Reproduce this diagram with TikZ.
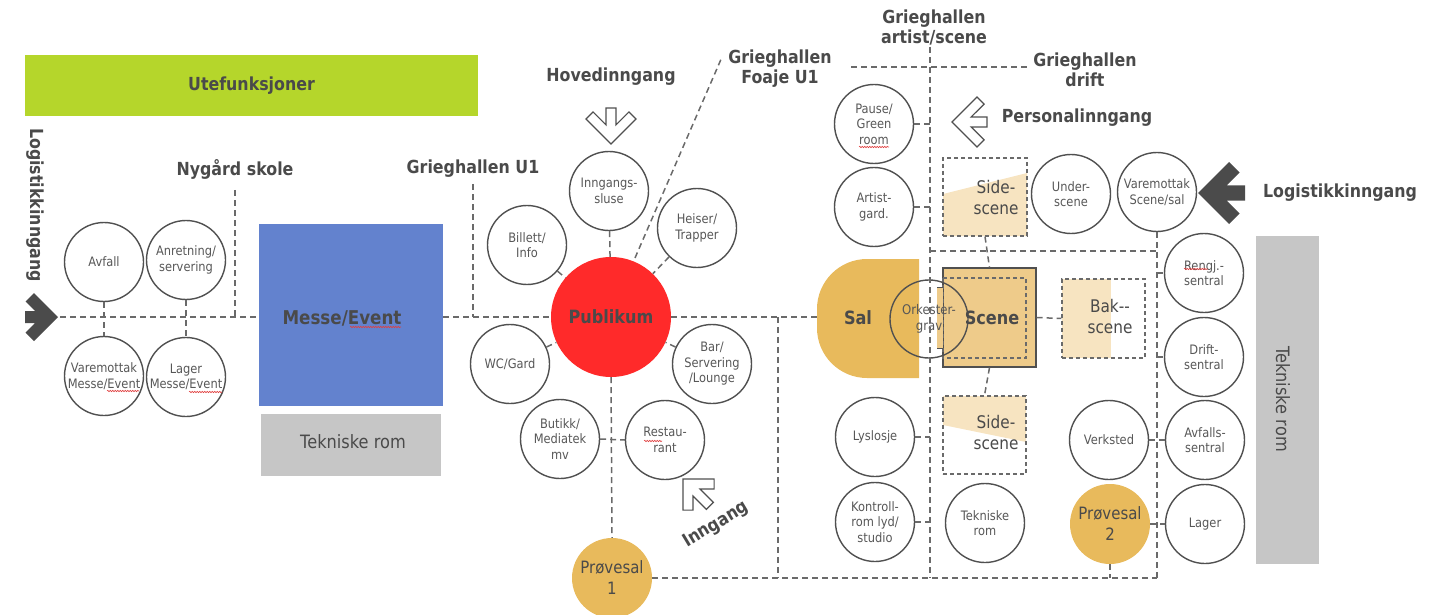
\documentclass[tikz,border=0pt]{standalone}
\usepackage{fontspec}
\setmainfont[FakeStretch=0.88]{DejaVu Sans}
\usetikzlibrary{decorations.pathmorphing}
\definecolor{txt}{HTML}{4A4A4A}
\definecolor{ctxt}{HTML}{575757}
\definecolor{lgreen}{HTML}{B5D62B}
\definecolor{mblue}{HTML}{6382CE}
\definecolor{pred}{HTML}{FF2A2A}
\definecolor{gold}{HTML}{E8BA5C}
\definecolor{scenec}{HTML}{EECB8A}
\definecolor{lightc}{HTML}{F7E4C1}
\definecolor{tgray}{HTML}{C6C6C6}
\definecolor{lgray}{HTML}{505050}
\definecolor{dgray}{HTML}{6A6A6A}
\definecolor{darr}{HTML}{4B4B4B}
\definecolor{squig}{HTML}{E04040}
\newcommand\arrowfig[6]{%
  \begin{scope}[shift={#1},rotate=#2]
  \filldraw[#3] (0,0) -- (-#4,-#4) -- ({-#4-0.7071*#5},{-#4+0.7071*#5})
    -- ({-1.9142*#5},{-0.5*#5}) -- (-#6,{-0.5*#5}) -- (-#6,{0.5*#5})
    -- ({-1.9142*#5},{0.5*#5}) -- ({-#4-0.7071*#5},{#4-0.7071*#5})
    -- (-#4,#4) -- cycle;
  \end{scope}}
\tikzset{
  room/.style={circle, draw=lgray, line width=1.4pt, minimum size=79pt, inner sep=0pt,
    align=center, font=\fontsize{13}{15.5}\selectfont, text=ctxt},
  goldroom/.style={circle, fill=gold, minimum size=80pt, inner sep=0pt, align=center,
    font=\fontsize{17}{21}\selectfont, text=txt},
  conn/.style={draw=dgray, line width=1.5pt, dash pattern=on 6pt off 4pt},
  boxdash/.style={draw=dgray, line width=1.2pt, dash pattern=on 4pt off 3pt},
  head/.style={font=\bfseries\fontsize{18}{20}\selectfont, text=txt, align=center, inner sep=0pt},
  boldin/.style={font=\bfseries\fontsize{18.3}{20}\selectfont, text=txt, inner sep=0pt},
  bigtxt/.style={font=\fontsize{17.4}{21}\selectfont, text=txt, align=center, inner sep=0pt},
  solidarr/.style={fill=darr, draw=none},
  hollowarr/.style={fill=white, draw=lgray, line width=1.2pt, line join=miter},
  spell/.style={draw=squig, line width=0.6pt, decorate, decoration={snake, amplitude=0.7pt, segment length=2.5pt}},
}
\begin{document}
\begin{tikzpicture}[x=1pt,y=-1pt]
\useasboundingbox (0,0) rectangle (1449,615);
\clip (0,0) rectangle (1449,615);

% ---------- left part ----------
\node[fill=lgreen, minimum width=453pt, minimum height=61pt, inner sep=0pt, head] (ute) at (251.5,85.5) {Utefunksjoner};
\node[head, rotate=-90] (logl) at (35,205) {Logistikkinngang};
\arrowfig{(58,317)}{0}{solidarr}{24}{12}{33}
\coordinate (larr) at (60,317);

\node[head] (nyg) at (235,169) {Nygård skole};
\node[head] (gu1) at (473,169) {Grieghallen U1};
\coordinate (nygl) at (235,190);
\coordinate (gu1l) at (473,184);

\node[room] (avf) at (104,262) {Avfall};
\node[room] (anr) at (186,260) {Anretning/\\servering};
\node[room] (vmm) at (104,376) {Varemottak\\Messe/Event};
\node[room] (lgm) at (186,377) {Lager\\Messe/Event};

\node[fill=mblue, minimum width=184pt, minimum height=182pt, inner sep=0pt] (messe) at (351,315) {};
\node[font=\bfseries\fontsize{19}{20}\selectfont, text=txt, inner sep=0pt] (messet) at (342,318) {Messe/Event};
\node[fill=tgray, minimum width=180pt, minimum height=62pt, inner sep=0pt] (tek1) at (351,445) {};
\node[font=\fontsize{18.4}{20}\selectfont, text=txt, inner sep=0pt] (tek1t) at (353,442) {Tekniske rom};

\draw[conn] (larr) -- (larr -| messe.west);
\draw[conn] (nygl) -- (nygl |- larr);
\draw[conn] (avf) -- (vmm);
\draw[conn] (anr) -- (lgm);

% spell-check marks
\draw[spell] (350,327) -- (401,327);
\draw[spell] (107,391) -- (139,391);
\draw[spell] (189,392) -- (222,392);

% ---------- Publikum ----------
\node[circle, fill=pred, minimum size=120pt, inner sep=0pt,
  font=\bfseries\fontsize{18.3}{20}\selectfont, text=txt] (pub) at (611,317) {Publikum};
\draw[conn] (messe.east |- pub.west) -- (pub.west);
\draw[conn] (gu1l) -- (gu1l |- pub.west);

\node[head] (hov) at (611,77) {Hovedinngang};
\arrowfig{(611,144)}{-90}{hollowarr}{25}{10}{36}
\node[room] (inn) at (609,191) {Inngangs-\\sluse};
\node[room] (bil) at (527,245) {Billett/\\Info};
\node[room] (hei) at (697,228) {Heiser/\\Trapper};
\node[room] (wc) at (510,364) {WC/Gard};
\node[room] (bar) at (712,364) {Bar/\\Servering\\/Lounge};
\node[room] (but) at (560,439) {Butikk/\\Mediatek\\mv};
\node[room] (res) at (665,440) {Restau-\\rant};
\node[goldroom] (pv1) at (612,578) {Prøvesal\\1};
\draw[spell] (644,441) -- (662,441);

\draw[conn] (inn) -- (pub);
\draw[conn] (bil) -- (pub);
\draw[conn] (hei) -- (pub);
\draw[conn] (wc) -- (pub);
\draw[conn] (bar) -- (pub);
\draw[conn] (pub.south) -- (pv1.north);
\draw[conn] (but.east) -- (res.west);

\coordinate (foaje) at (722,57);
\draw[conn] (pub) ++(24,-59) -- (foaje);
\node[head] (foajet) at (780,69) {Grieghallen\\Foaje U1};

\arrowfig{(683,479)}{135}{hollowarr}{22}{10}{38}
\node[head, rotate=31] (inng) at (716,525) {Inngang};

% ---------- Sal / Scene ----------
\fill[gold] (919,259) -- (867,259) .. controls (839.4,259) and (817,281.4) .. (817,309)
  -- (817,328) .. controls (817,355.6) and (839.4,378) .. (867,378) -- (919,378) -- cycle;
\node[boldin] (sal) at (858,318) {Sal};
\coordinate (salw) at (817,317);
\draw[conn] (pub.east) -- (salw);
\coordinate (m1) at (778,317);
\draw[conn] (m1) -- (m1 |- pv1.east);
\draw[conn] (pv1.east) -- (1157,578);

\node[draw=lgray, fill=scenec, line width=1.2pt, minimum width=93pt, minimum height=99pt, inner sep=0pt] (scene) at (989.5,317.5) {};
\draw[boxdash] (943,278) rectangle (1026,358);
\fill[scenec] (937,287) rectangle (943,348);
\draw[lgray, line width=0.9pt] (937,287) -- (943,287) (937,348) -- (943,348);
\node[room, minimum size=78pt, font=\fontsize{13.3}{15.5}\selectfont] (ork) at (929,319) {Orkester-\\grav};
\node[boldin] (scenet) at (992,318) {Scene};

\fill[lightc] (1062,279) rectangle (1111,358);
\node[boxdash, minimum width=83pt, minimum height=79pt, inner sep=0pt] (bak) at (1103.5,318.5) {};
\node[bigtxt] (bakt) at (1110,317) {Bak{-}{-}\\scene};
\draw[conn] (scene.east) -- (bak.west);

% side scenes
\fill[lightc] (943,194) -- (1027,173) -- (1027,236) -- (943,236) -- cycle;
\node[boxdash, minimum width=84pt, minimum height=78pt, inner sep=0pt] (ss1) at (985,197) {};
\node[bigtxt] (ss1t) at (996,197.5) {Side-\\scene};
\fill[lightc] (943,396) -- (1026,396) -- (1026,442) -- (943,425) -- cycle;
\node[boxdash, minimum width=83pt, minimum height=78pt, inner sep=0pt] (ss2) at (984.5,435) {};
\node[bigtxt] (ss2t) at (996,432.5) {Side-\\scene};
\draw[conn] (ss1.south) -- (scene.north);
\draw[conn] (scene.south) -- (ss2.north);

% ---------- right part ----------
\node[head] (gas) at (934,27) {Grieghallen\\artist/scene};
\node[head] (gdr) at (1085,70) {Grieghallen\\drift};
\node[head] (pers) at (1077,118) {Personalinngang};
\arrowfig{(952,122)}{180}{hollowarr}{25}{10}{35}
\node[head] (logr) at (1340,193) {Logistikkinngang};
\arrowfig{(1198,193)}{180}{solidarr}{31}{15}{47}

\coordinate (va) at (930,47);
\coordinate (vb) at (930,578);
\draw[conn] (va) -- (vb);
\coordinate (ha) at (851,67);
\coordinate (hb) at (1027,67);
\draw[conn] (ha) -- (hb);

\node[room] (pause) at (874,124) {Pause/\\Green\\room};
\draw[spell] (859,147) -- (889,147);
\node[room] (art) at (874,207) {Artist-\\gard.};
\node[room] (lys) at (875,437) {Lyslosje};
\node[room] (kon) at (875,522) {Kontroll-\\rom lyd/\\studio};
\node[room] (tek2) at (985,523) {Tekniske\\rom};
\node[room] (und) at (1071,194) {Under-\\scene};
\node[room] (vms) at (1157,192) {Varemottak\\Scene/sal};
\node[room] (verk) at (1109,440) {Verksted};
\node[goldroom] (pv2) at (1110,524) {Prøvesal\\2};
\node[room] (ren) at (1204,273) {Rengj.-\\sentral};
\draw[spell] (1184,269) -- (1208,269);
\node[room] (dri) at (1204,357) {Drift-\\sentral};
\node[room] (avs) at (1205,440) {Avfalls-\\sentral};
\node[room] (lag) at (1205,524) {Lager};

\node[fill=tgray, minimum width=63pt, minimum height=328pt, inner sep=0pt] (tek3) at (1287.5,400) {};
\node[rotate=-90, font=\fontsize{18.4}{20}\selectfont, text=txt, inner sep=0pt] (tek3t) at (1283,399) {Tekniske rom};

\draw[conn] (pause.east) -- (pause.east -| va);
\draw[conn] (art.east) -- (art.east -| va);
\draw[conn] (lys.east) -- (lys.east -| va);
\draw[conn] (kon.east) -- (kon.east -| va);

\coordinate (rt) at (1157,251);
\draw[conn] (rt -| va) -- (rt);
\draw[conn] (vms.south) -- (vms.south |- vb);
\draw[conn] (ren.west -| vms.south) -- (ren.west);
\draw[conn] (dri.west -| vms.south) -- (dri.west);
\draw[conn] (verk.east) -- (avs.west);
\draw[conn] (pv2.east) -- (lag.west);
\draw[conn] (pv2.south) -- (pv2.south |- vb);
\end{tikzpicture}
\end{document}
